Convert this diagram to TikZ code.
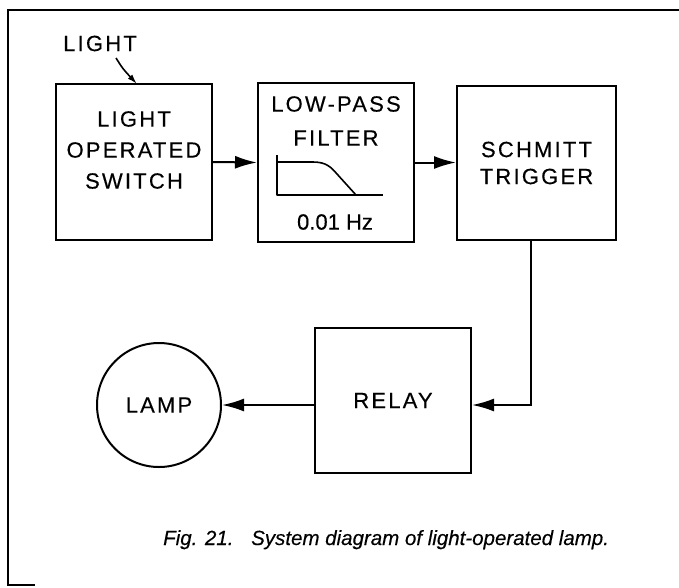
\documentclass[tikz,border=0pt]{standalone}
\usepackage{fontspec}
\setmainfont{Liberation Sans}
\newfontfamily\boxfont{Liberation Sans}[LetterSpace=10, FakeBold=0.3]
\newfontfamily\plainfont{Liberation Sans}[FakeBold=0.3]
\usetikzlibrary{arrows.meta}
\begin{document}
\begin{tikzpicture}[x=1pt,y=-1pt,
  blk/.style={draw, line width=2pt, inner sep=0pt, align=center,
    minimum width=156pt, minimum height=156pt},
  txt/.style={inner sep=0pt, align=center, font=\boxfont\fontsize{22}{31}\selectfont},
  captxt/.style={inner sep=0pt, font=\plainfont\itshape\fontsize{20.5}{25}\selectfont},
  arr/.style={line width=2pt, -{Latex[length=22pt,width=13pt]}},
  curve/.style={line width=1.6pt, line join=round}]
\useasboundingbox (0,0) rectangle (679,587);
% frame
\draw[line width=2pt] (679,10) -- (8,10) -- (8,585) -- (35,585);
% blocks
\node[blk] (sw) at (134,162) {};
\node[txt] (swt) at (134,150) {LIGHT\\OPERATED\\SWITCH};
\node[blk, minimum height=159pt] (lpf) at (336,162.5) {};
\node[txt] (lpf1) at (336,104) {LOW-PASS};
\node[txt] (lpf2) at (336,138) {FILTER};
\node[txt, font=\plainfont\fontsize{22}{26}\selectfont] (lpf3) at (335,222) {0.01 Hz};
\draw[curve] (277,155) -- (277,195) -- (383,195);
\draw[curve] (277,162) -- (313,162) .. controls (326,162) and (331,167) .. (337,174) -- (356,195);
\node[blk, txt, draw, line width=2pt, minimum width=159pt, minimum height=154pt,
  font=\boxfont\fontsize{22}{27}\selectfont] (sch) at (536.5,163) {SCHMITT\\TRIGGER};
\node[blk, txt, draw, line width=2pt, minimum width=156pt, minimum height=145pt] (relay) at (393,400.5) {RELAY};
\node[txt, draw, circle, line width=2pt, minimum size=124pt] (lamp) at (159,405) {LAMP};
% light input
\node[txt] (lightlbl) at (100,43.5) {LIGHT};
\coordinate (lt) at (116,58);
\coordinate (lh) at (137,84);
\draw[line width=1.6pt, -{Latex[length=10pt,width=6pt]}] (lt) .. controls (123,69) .. (lh);
% connectors
\draw[arr] (sw.east) -- (lpf.west);
\draw[arr] (lpf.east) -- (sch.west |- lpf.east);
\draw[arr] ([xshift=-5.5pt]sch.south) |- (relay.east |- lamp.center);
\draw[arr] (relay.west |- lamp.center) -- (lamp.east);
% caption
\node[captxt, anchor=base west] (figno) at (163,545) {Fig. 21.};
\node[captxt, anchor=base west] (figtxt) at (251,545) {System diagram of light-operated lamp.};
\end{tikzpicture}
\end{document}
